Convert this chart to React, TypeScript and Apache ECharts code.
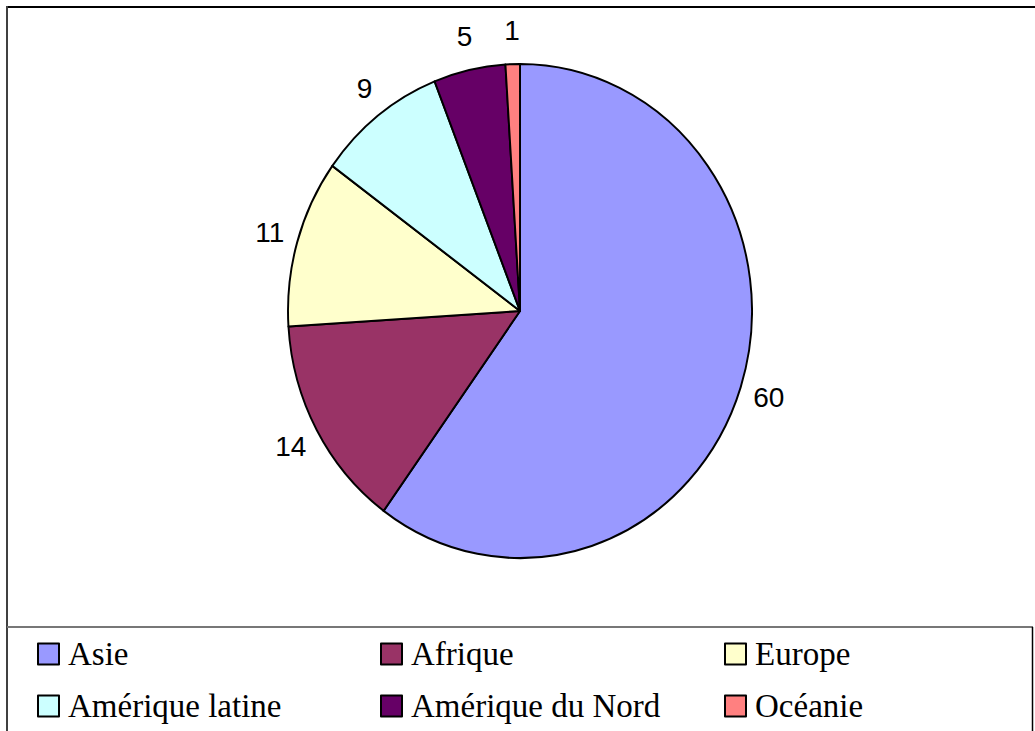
import React, { useEffect, useRef } from "react";
import * as echarts from "echarts";

const categories = ["Asie", "Afrique", "Europe", "Amérique latine", "Amérique du Nord", "Océanie"];
const values = [60, 14, 11, 9, 5, 1];
const colors = ["#9999FF", "#993366", "#FFFFCC", "#CCFFFF", "#660066", "#FF8080"];
const legendColumns = [
  ["Asie", "Amérique latine"],
  ["Afrique", "Amérique du Nord"],
  ["Europe", "Océanie"],
];

const CX = 520;
const CY = 311;
const R = 240;
// the original pie is a slightly stretched ellipse
const RX = 232;
const RY = 247;

export default function App() {
  const pieRef = useRef<HTMLDivElement>(null);
  const ref = useRef<HTMLDivElement>(null);

  useEffect(() => {
    if (!ref.current || !pieRef.current) return;
    const pieChart = echarts.init(pieRef.current, null, { renderer: "svg" });
    const chart = echarts.init(ref.current, null, { renderer: "svg" });
    const total = values.reduce((a, b) => a + b, 0);
    const mids: number[] = [];
    let acc = 0;
    values.forEach((v) => {
      mids.push(((acc + v / 2) / total) * Math.PI * 2);
      acc += v;
    });
    const data = categories.map((name, i) => ({ name, value: values[i] }));

    pieChart.setOption({
      animation: false,
      color: colors,
      series: [
        {
          type: "pie",
          center: [CX, CY],
          radius: R,
          startAngle: 90,
          clockwise: true,
          itemStyle: { borderColor: "#000", borderWidth: 2 },
          emphasis: { disabled: true },
          label: { show: false },
          labelLine: { show: false },
          data,
        },
      ],
    });

    const legendLefts = [37, 380, 724];

    chart.setOption({
      animation: false,
      color: colors,
      legend: legendColumns.map((col, i) => ({
        data: col.map((name) => ({
          name,
          itemStyle: { color: colors[categories.indexOf(name)], borderColor: "#000", borderWidth: 2 },
        })),
        orient: "vertical",
        left: legendLefts[i],
        top: 637,
        height: 200,
        padding: 0,
        icon: "rect",
        itemWidth: 21,
        itemHeight: 21,
        itemGap: 18,
        selectedMode: false,
        textStyle: {
          fontFamily: "Liberation Serif",
          fontSize: 33,
          lineHeight: 34,
          color: "#000",
          padding: [0, 0, 0, 4],
        },
      })),
      graphic: [
        { type: "line", shape: { x1: 6, y1: 7, x2: 1035, y2: 7 }, style: { stroke: "#000", lineWidth: 2 } },
        { type: "line", shape: { x1: 7, y1: 6, x2: 7, y2: 731 }, style: { stroke: "#404040", lineWidth: 2 } },
        { type: "line", shape: { x1: 7, y1: 627, x2: 1033, y2: 627 }, style: { stroke: "#777", lineWidth: 2 } },
        { type: "line", shape: { x1: 1032.5, y1: 627, x2: 1032.5, y2: 731 }, style: { stroke: "#000", lineWidth: 1.5 } },
      ],
      series: [
        {
          type: "pie",
          center: [CX, CY],
          radius: R,
          startAngle: 90,
          clockwise: true,
          itemStyle: { color: "rgba(0,0,0,0)", borderWidth: 0 },
          emphasis: { disabled: true },
          label: {
            show: true,
            position: "outside",
            formatter: "{c}",
            fontFamily: "Liberation Sans",
            fontSize: 28,
            color: "#000",
          },
          labelLine: { show: false, length: 8, length2: 0 },
          labelLayout: (p: any) => {
            const a = mids[p.dataIndex];
            const dx = Math.sin(a);
            const dy = -Math.cos(a);
            const w = p.labelRect.width;
            const x = CX + (RX + 14) * dx + (w / 2) * dx;
            const y = CY + (RY + 14) * dy + 20 * dy;
            return { x, y, align: "center", verticalAlign: "middle" };
          },
          data,
        },
      ],
    });
    return () => {
      chart.dispose();
      pieChart.dispose();
    };
  }, []);

  return (
    <div style={{ position: "fixed", left: 0, top: 0, width: 1035, height: 731, background: "#fff", overflow: "hidden" }}>
      <div
        ref={pieRef}
        style={{
          position: "absolute",
          left: 0,
          top: 0,
          width: 1035,
          height: 731,
          transformOrigin: `${CX}px ${CY}px`,
          transform: `scale(${RX / R}, ${RY / R})`,
        }}
      />
      <div ref={ref} style={{ position: "absolute", left: 0, top: 0, width: 1035, height: 731 }} />
    </div>
  );
}
